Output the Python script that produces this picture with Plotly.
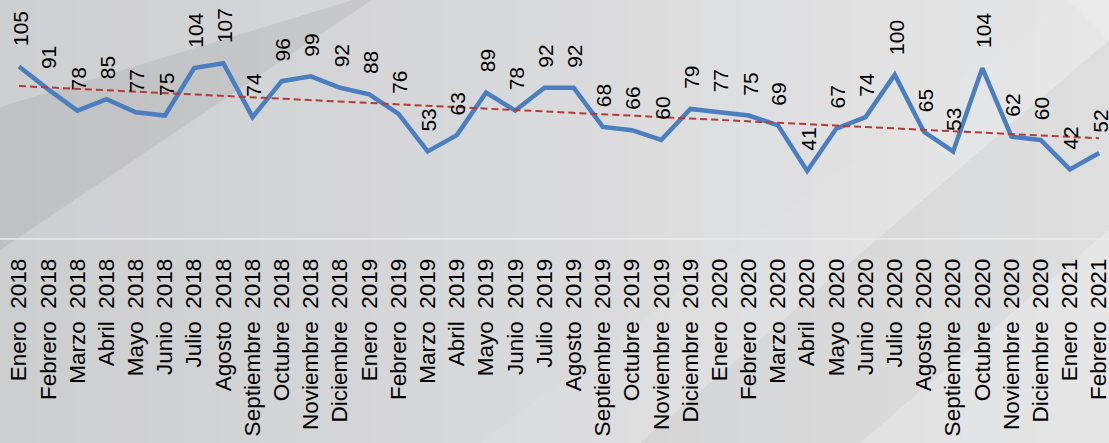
import numpy as np
import plotly.graph_objects as go

# data
meses = ["Enero", "Febrero", "Marzo", "Abril", "Mayo", "Junio", "Julio", "Agosto",
         "Septiembre", "Octubre", "Noviembre", "Diciembre"]
anios = [2018, 2019, 2020, 2021]
etiquetas = [f"{m}\u00a0\u00a0{a}" for a in anios for m in meses][:38]
valores = [105, 91, 78, 85, 77, 75, 104, 107, 74, 96, 99, 92,
           88, 76, 53, 63, 89, 78, 92, 92, 68, 66, 60, 79,
           77, 75, 69, 41, 67, 74, 100, 65, 53, 104, 62, 60,
           42, 52]

W, H = 1109, 443
T, B = 42, 205
PLOT_H = H - T - B

x = list(range(len(valores)))

# linear trend from the data (like the Excel trendline)
m, c = np.polyfit(x, valores, 1)
x_trend = [x[0], x[-1]]
y_trend = [m * xi + c for xi in x_trend]


def px2paper(px, py):
    return px / W, (H - B - py) / PLOT_H


def poly(points, color):
    pts = [px2paper(a, b) for a, b in points]
    path = "M " + " L ".join(f"{a:.4f},{b:.4f}" for a, b in pts) + " Z"
    return dict(type="path", xref="paper", yref="paper", path=path,
                fillcolor=color, line=dict(width=0), layer="below")


def mix(c1, c2, t):
    r = [int(round(a + (b - a) * t)) for a, b in zip(c1, c2)]
    return f"rgb({r[0]},{r[1]},{r[2]})"


# background: soft left-to-right gradient with diagonal bands
shapes = []
n = 30
for k in range(n):
    x0, y0 = px2paper(W * k / n, 0)
    x1, y1 = px2paper(W * (k + 1) / n + 1, H)
    shapes.append(dict(type="rect", xref="paper", yref="paper",
                       x0=x0, x1=x1, y0=y1, y1=y0,
                       fillcolor=mix((205, 206, 208), (230, 230, 231), k / (n - 1)),
                       line=dict(width=0), layer="below"))
shapes.append(poly([(0, 107), (353, 0), (372, 0), (0, 250)], "rgba(0,0,0,0.06)"))
shapes.append(poly([(0, 0), (353, 0), (0, 107)], "rgba(255,255,255,0.03)"))
shapes.append(poly([(480, 443), (1067, 0), (1109, 0), (1109, 40), (640, 443)],
                   "rgba(255,255,255,0.06)"))
shapes.append(poly([(640, 443), (1109, 40), (1109, 230), (860, 443)],
                   "rgba(0,0,0,0.03)"))
shapes.append(poly([(1067, 0), (1109, 0), (1109, 40)], "rgba(255,255,255,0.12)"))

fig = go.Figure()

fig.add_trace(go.Scatter(
    x=x, y=valores, mode="lines",
    line=dict(color="#4a7ebf", width=4.5),
    cliponaxis=False, showlegend=False, hoverinfo="skip"
))

fig.add_trace(go.Scatter(
    x=x_trend, y=y_trend, mode="lines",
    line=dict(color="#b23b3b", width=2, dash="7px,4px"),
    cliponaxis=False, showlegend=False, hoverinfo="skip"
))

# rotated value labels above each point
for xi, v in zip(x, valores):
    fig.add_annotation(
        x=xi, y=v, text=str(v), textangle=-90,
        showarrow=False, yanchor="bottom", xanchor="center",
        yshift=18, xshift=1,
        font=dict(family="Liberation Sans, Arial", size=21, color="#000000")
    )

fig.update_layout(
    width=W, height=H,
    margin=dict(l=0, r=0, t=T, b=B, autoexpand=False),
    paper_bgcolor="#dadbdd",
    plot_bgcolor="rgba(0,0,0,0)",
    shapes=shapes,
    showlegend=False,
    font=dict(family="Liberation Sans, Arial", color="#000000"),
    xaxis=dict(
        range=[-0.651, 37.34], automargin=False,
        tickmode="array", tickvals=x, ticktext=etiquetas,
        tickangle=-90, tickfont=dict(size=22.5, color="#000000"),
        ticks="", ticklabelstandoff=10, ticklabeloverflow="allow",
        showgrid=False, zeroline=False,
        showline=True, linecolor="rgba(236,236,236,0.7)", linewidth=1.5,
    ),
    yaxis=dict(
        range=[0, 120], visible=False, showgrid=False, zeroline=False,
        automargin=False,
    ),
)

# page margin off so the figure sits flush in the window
fig.write_html("out.html", config={"displayModeBar": False},
               post_script="document.body.style.margin='0';"
                           "document.body.style.overflow='hidden';")
